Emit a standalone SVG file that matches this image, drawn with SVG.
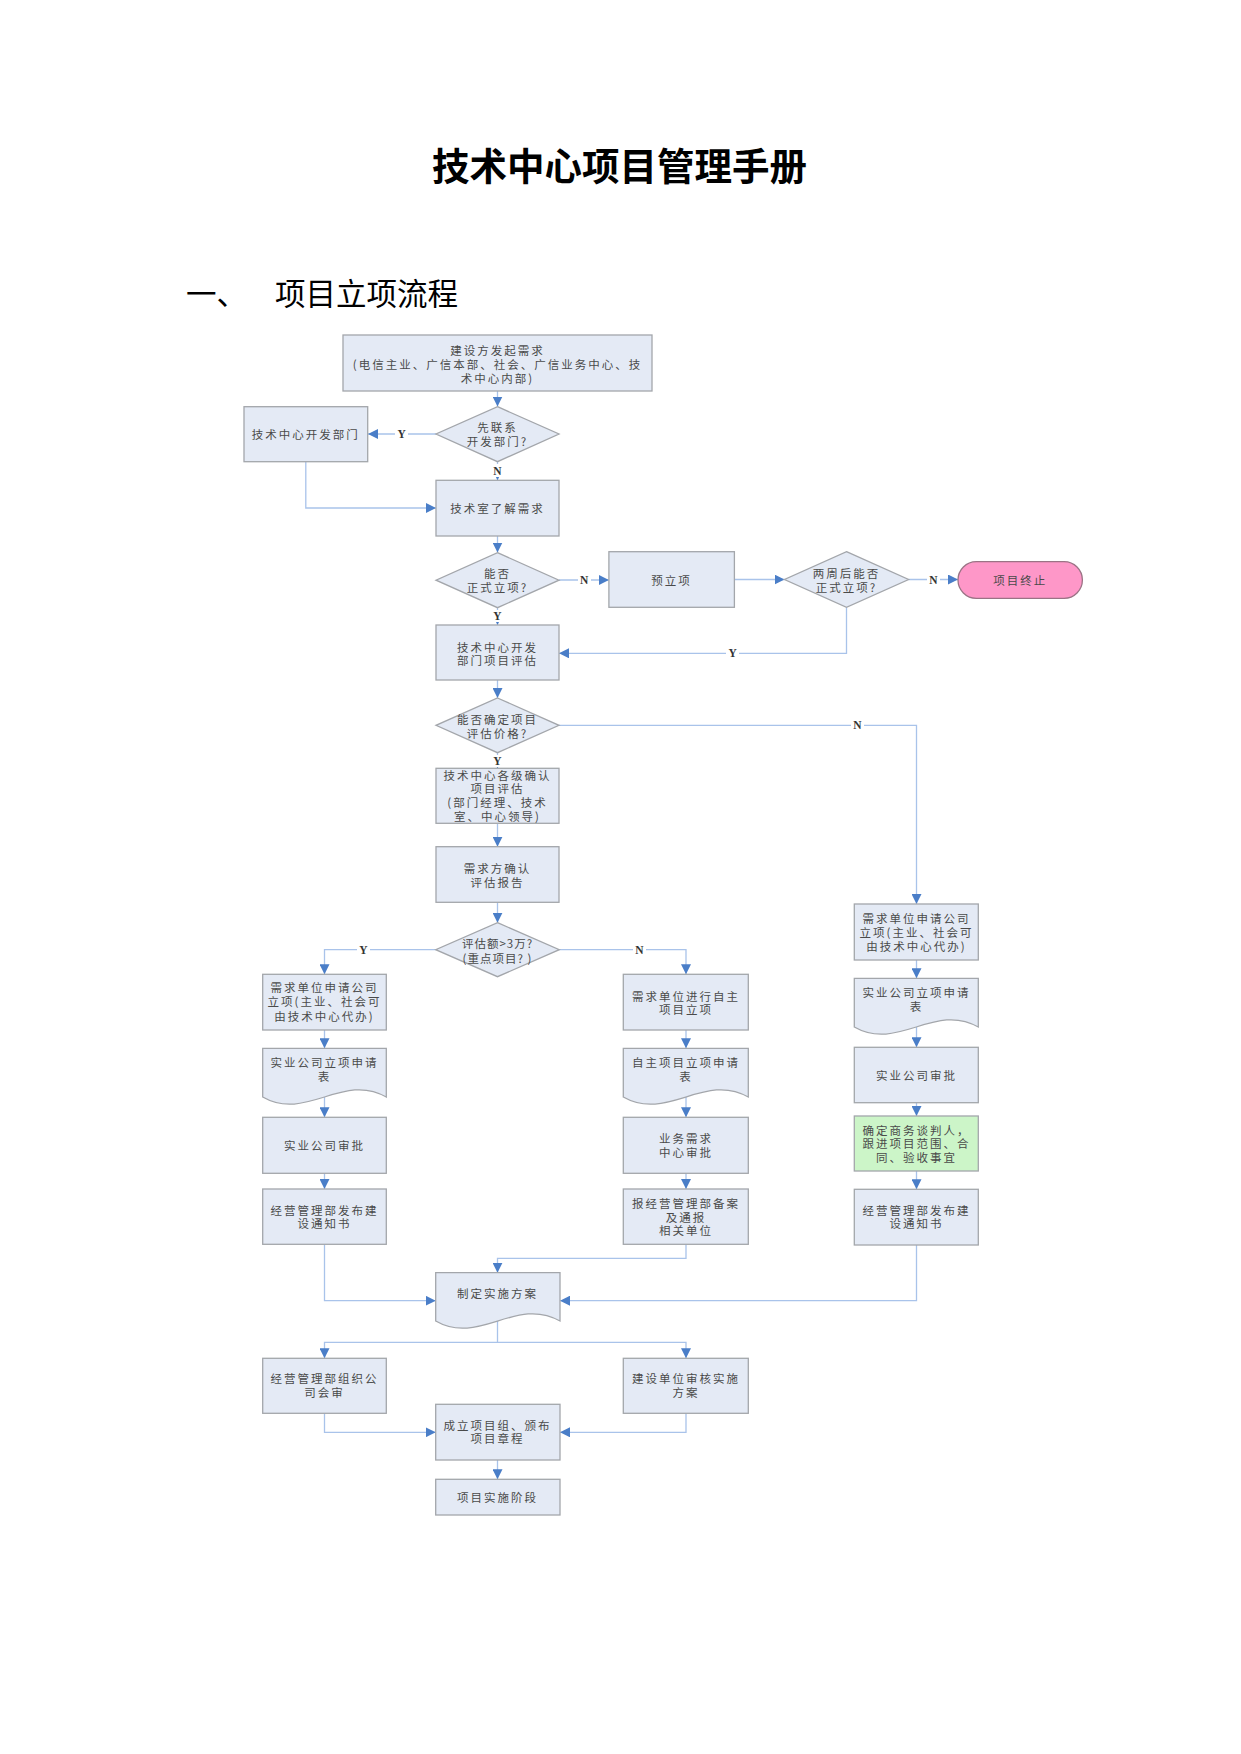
<svg xmlns="http://www.w3.org/2000/svg" width="1241" height="1754" viewBox="0 0 1241 1754">
<style>
.bg{fill:#ffffff}
.box{fill:#e4eaf5;stroke:#a3a6ab;stroke-width:1.3}
.green{fill:#ccf5c8;stroke:#a3a6ab;stroke-width:1.3}
.term{fill:#fe97c8;stroke:#9b7385;stroke-width:1.3}
.t{font-family:"Noto Sans CJK SC","Liberation Serif",serif;font-size:11.5px;fill:#4a4a4a;text-anchor:middle;dominant-baseline:central;letter-spacing:2px}
.c{fill:none;stroke:#a9c3ea;stroke-width:1.3}
.lab{font-family:"Liberation Serif",serif;font-weight:bold;font-size:11.5px;fill:#333;text-anchor:middle;dominant-baseline:central}
.lbg{fill:#ffffff}
.title{font-family:"Noto Sans CJK SC",sans-serif;font-weight:bold;font-size:37.5px;fill:#000;text-anchor:middle}
.head{font-family:"Noto Sans CJK SC",sans-serif;font-size:30.5px;fill:#000}
</style>
<defs>
<marker id="arr" markerUnits="userSpaceOnUse" markerWidth="11" markerHeight="10" refX="10" refY="5" orient="auto">
<path d="M0,0 L10,5 L0,10 Z" fill="#4a7ec8"/>
</marker>
</defs>
<rect class="bg" x="0" y="0" width="1241" height="1754"/>

<text class="title" x="619.5" y="180">技术中心项目管理手册</text>
<text class="head" x="186" y="305">一、</text>
<text class="head" x="275" y="305">项目立项流程</text>

<g id="connectors">
<path class="c" d="M497.5,391 V406.5" marker-end="url(#arr)"/>
<path class="c" d="M436,434 H368" marker-end="url(#arr)"/>
<path class="c" d="M497.5,461.7 V480.3" marker-end="url(#arr)"/>
<path class="c" d="M305.8,461.7 V508 H436" marker-end="url(#arr)"/>
<path class="c" d="M497.5,536 V552.5" marker-end="url(#arr)"/>
<path class="c" d="M559,580 H608.9" marker-end="url(#arr)"/>
<path class="c" d="M734.4,579.5 H784.5" marker-end="url(#arr)"/>
<path class="c" d="M908.6,579.5 H958" marker-end="url(#arr)"/>
<path class="c" d="M846.5,607.3 V653.3 H559" marker-end="url(#arr)"/>
<path class="c" d="M497.5,607.7 V625" marker-end="url(#arr)"/>
<path class="c" d="M497.5,680 V698" marker-end="url(#arr)"/>
<path class="c" d="M559,725.3 H916.5 V904" marker-end="url(#arr)"/>
<path class="c" d="M497.5,752.7 V768.3" marker-end="url(#arr)"/>
<path class="c" d="M497.5,823.3 V846.7" marker-end="url(#arr)"/>
<path class="c" d="M497.5,902.3 V922.7" marker-end="url(#arr)"/>
<path class="c" d="M435.7,949.7 H324.5 V974.3" marker-end="url(#arr)"/>
<path class="c" d="M559.3,949.7 H686 V974.3" marker-end="url(#arr)"/>
<path class="c" d="M324.5,1030 V1048.3" marker-end="url(#arr)"/>
<path class="c" d="M324.5,1097 V1117.3" marker-end="url(#arr)"/>
<path class="c" d="M324.5,1173.3 V1189" marker-end="url(#arr)"/>
<path class="c" d="M686,1030 V1048.3" marker-end="url(#arr)"/>
<path class="c" d="M686,1097 V1117.3" marker-end="url(#arr)"/>
<path class="c" d="M686,1173.3 V1189" marker-end="url(#arr)"/>
<path class="c" d="M916.5,960 V978.3" marker-end="url(#arr)"/>
<path class="c" d="M916.5,1027 V1047.3" marker-end="url(#arr)"/>
<path class="c" d="M916.5,1102.7 V1116" marker-end="url(#arr)"/>
<path class="c" d="M916.5,1171 V1189.3" marker-end="url(#arr)"/>
<path class="c" d="M324.5,1244.3 V1300.7 H435.7" marker-end="url(#arr)"/>
<path class="c" d="M686,1244.3 V1258.3 H497.5 V1272.7" marker-end="url(#arr)"/>
<path class="c" d="M916.5,1245 V1300.7 H560" marker-end="url(#arr)"/>
<path class="c" d="M497.5,1321 V1342.3 H324.5 V1358.3" marker-end="url(#arr)"/>
<path class="c" d="M497.5,1342.3 H686 V1358.3" marker-end="url(#arr)"/>
<path class="c" d="M324.5,1413.3 V1432.3 H435.7" marker-end="url(#arr)"/>
<path class="c" d="M686,1413.3 V1432.3 H560" marker-end="url(#arr)"/>
<path class="c" d="M497.5,1460 V1479.3" marker-end="url(#arr)"/>

<rect class="lbg" x="395" y="427" width="13" height="14"/><text class="lab" x="401.7" y="434">Y</text>
<rect class="lbg" x="491" y="464" width="13" height="13"/><text class="lab" x="497.5" y="470.7">N</text>
<rect class="lbg" x="578" y="573" width="13" height="14"/><text class="lab" x="584.2" y="580">N</text>
<rect class="lbg" x="927" y="573" width="13" height="14"/><text class="lab" x="933.3" y="579.5">N</text>
<rect class="lbg" x="726" y="647" width="13" height="13"/><text class="lab" x="732.7" y="653.3">Y</text>
<rect class="lbg" x="491" y="610" width="13" height="12"/><text class="lab" x="497.5" y="616">Y</text>
<rect class="lbg" x="851" y="719" width="13" height="13"/><text class="lab" x="857.3" y="725.3">N</text>
<rect class="lbg" x="491" y="755" width="13" height="12"/><text class="lab" x="497.5" y="760.7">Y</text>
<rect class="lbg" x="357" y="943" width="13" height="14"/><text class="lab" x="363.3" y="949.7">Y</text>
<rect class="lbg" x="633" y="943" width="13" height="14"/><text class="lab" x="639.3" y="949.7">N</text>
</g>

<g id="n_start"><rect class="box" x="343" y="335" width="309" height="56"/>
<text class="t" x="497.5" y="350">建设方发起需求</text>
<text class="t" x="497.5" y="363.5">(电信主业、广信本部、社会、广信业务中心、技</text>
<text class="t" x="497.5" y="377.5">术中心内部)</text></g>

<g id="n_d1"><polygon class="box" points="497.5,406.7 559,434 497.5,461.7 436,434"/>
<text class="t" x="497.5" y="427.3">先联系</text>
<text class="t" x="497.5" y="441">开发部门?</text></g>

<g id="n_devdept"><rect class="box" x="244" y="406.7" width="123.7" height="55"/>
<text class="t" x="305.8" y="434">技术中心开发部门</text></g>

<g id="n_understand"><rect class="box" x="436" y="480.3" width="123" height="55.7"/>
<text class="t" x="497.5" y="508">技术室了解需求</text></g>

<g id="n_d2"><polygon class="box" points="497.5,552.7 559,580.2 497.5,607.7 436,580.2"/>
<text class="t" x="497.5" y="573.3">能否</text>
<text class="t" x="497.5" y="586.7">正式立项?</text></g>

<g id="n_pre"><rect class="box" x="608.9" y="551.7" width="125.5" height="55.6"/>
<text class="t" x="671.6" y="579.5">预立项</text></g>

<g id="n_d3"><polygon class="box" points="846.5,551.7 908.6,579.5 846.5,607.3 784.5,579.5"/>
<text class="t" x="846.5" y="573.3">两周后能否</text>
<text class="t" x="846.5" y="586.7">正式立项?</text></g>

<g id="n_end"><rect class="term" x="958" y="561.7" width="124.4" height="36.6" rx="18.3" ry="18.3"/>
<text class="t" x="1020.2" y="580">项目终止</text></g>

<g id="n_eval"><rect class="box" x="436" y="625" width="123" height="55"/>
<text class="t" x="497.5" y="646.7">技术中心开发</text>
<text class="t" x="497.5" y="660">部门项目评估</text></g>

<g id="n_d4"><polygon class="box" points="497.5,698 559,725.3 497.5,752.7 436,725.3"/>
<text class="t" x="497.5" y="719">能否确定项目</text>
<text class="t" x="497.5" y="733.3">评估价格?</text></g>

<g id="n_confirm"><rect class="box" x="436" y="768.3" width="123" height="55"/>
<text class="t" x="497.5" y="775">技术中心各级确认</text>
<text class="t" x="497.5" y="788.3">项目评估</text>
<text class="t" x="497.5" y="802.3">(部门经理、技术</text>
<text class="t" x="497.5" y="816">室、中心领导)</text></g>

<g id="n_report"><rect class="box" x="436" y="846.7" width="123" height="55.6"/>
<text class="t" x="497.5" y="867.7">需求方确认</text>
<text class="t" x="497.5" y="881.7">评估报告</text></g>

<g id="n_d5"><polygon class="box" points="497.5,922.7 559.3,949.7 497.5,976.7 435.7,949.7"/>
<text class="t" x="497.5" y="943.3" style="letter-spacing:1px">评估额&gt;3万?</text>
<text class="t" x="497.5" y="957.7" style="letter-spacing:1px">(重点项目? )</text></g>

<g id="n_L1"><rect class="box" x="262.7" y="974.3" width="123.6" height="55.7"/>
<text class="t" x="324.5" y="986.7">需求单位申请公司</text>
<text class="t" x="324.5" y="1001.2">立项(主业、社会可</text>
<text class="t" x="324.5" y="1015.7">由技术中心代办)</text></g>

<g id="n_L2"><path class="box" d="M262.7,1048.3 H386.3 V1097 C343,1072 306,1122 262.7,1097 Z"/>
<text class="t" x="324.5" y="1062.3">实业公司立项申请</text>
<text class="t" x="324.5" y="1075.7">表</text></g>

<g id="n_L3"><rect class="box" x="262.7" y="1117.3" width="123.6" height="56"/>
<text class="t" x="324.5" y="1145.3">实业公司审批</text></g>

<g id="n_L4"><rect class="box" x="262.7" y="1189" width="123.6" height="55.3"/>
<text class="t" x="324.5" y="1210">经营管理部发布建</text>
<text class="t" x="324.5" y="1223.3">设通知书</text></g>

<g id="n_M1"><rect class="box" x="623.3" y="974.3" width="125" height="55.7"/>
<text class="t" x="686" y="995.7">需求单位进行自主</text>
<text class="t" x="686" y="1009">项目立项</text></g>

<g id="n_M2"><path class="box" d="M623.3,1048.3 H748.3 V1097 C704.5,1072 667,1122 623.3,1097 Z"/>
<text class="t" x="686" y="1062.3">自主项目立项申请</text>
<text class="t" x="686" y="1075.7">表</text></g>

<g id="n_M3"><rect class="box" x="623.3" y="1117.3" width="125" height="56"/>
<text class="t" x="686" y="1138.3">业务需求</text>
<text class="t" x="686" y="1151.7">中心审批</text></g>

<g id="n_M4"><rect class="box" x="623.3" y="1189" width="125" height="55.3"/>
<text class="t" x="686" y="1203.3">报经营管理部备案</text>
<text class="t" x="686" y="1216.7">及通报</text>
<text class="t" x="686" y="1230">相关单位</text></g>

<g id="n_R1"><rect class="box" x="854.3" y="904" width="124" height="56"/>
<text class="t" x="916.5" y="918.3">需求单位申请公司</text>
<text class="t" x="916.5" y="931.7">立项(主业、社会可</text>
<text class="t" x="916.5" y="945.7">由技术中心代办)</text></g>

<g id="n_R2"><path class="box" d="M854.3,978.3 H978.3 V1027 C934.5,1002 898,1052 854.3,1027 Z"/>
<text class="t" x="916.5" y="992.3">实业公司立项申请</text>
<text class="t" x="916.5" y="1005.7">表</text></g>

<g id="n_R3"><rect class="box" x="854.3" y="1047.3" width="124" height="55.4"/>
<text class="t" x="916.5" y="1075">实业公司审批</text></g>

<g id="n_R4"><rect class="green" x="854.3" y="1116" width="124" height="55"/>
<text class="t" x="916.5" y="1130">确定商务谈判人，</text>
<text class="t" x="916.5" y="1143.3">跟进项目范围、合</text>
<text class="t" x="916.5" y="1156.7">同、验收事宜</text></g>

<g id="n_R5"><rect class="box" x="854.3" y="1189.3" width="124" height="55.7"/>
<text class="t" x="916.5" y="1210">经营管理部发布建</text>
<text class="t" x="916.5" y="1223.3">设通知书</text></g>

<g id="n_plan"><path class="box" d="M435.7,1272.7 H560 V1321 C516,1296 479,1346 435.7,1321 Z"/>
<text class="t" x="497.5" y="1293.3">制定实施方案</text></g>

<g id="n_B1"><rect class="box" x="262.7" y="1358.3" width="123.6" height="55"/>
<text class="t" x="324.5" y="1378.3">经营管理部组织公</text>
<text class="t" x="324.5" y="1391.7">司会审</text></g>

<g id="n_B2"><rect class="box" x="623.3" y="1358.3" width="125" height="55"/>
<text class="t" x="686" y="1378.3">建设单位审核实施</text>
<text class="t" x="686" y="1391.7">方案</text></g>

<g id="n_team"><rect class="box" x="435.7" y="1404.3" width="124.3" height="55.7"/>
<text class="t" x="497.5" y="1425">成立项目组、颁布</text>
<text class="t" x="497.5" y="1438.3">项目章程</text></g>

<g id="n_impl"><rect class="box" x="435.7" y="1479.3" width="124.3" height="35.7"/>
<text class="t" x="497.5" y="1497">项目实施阶段</text></g>
</svg>
